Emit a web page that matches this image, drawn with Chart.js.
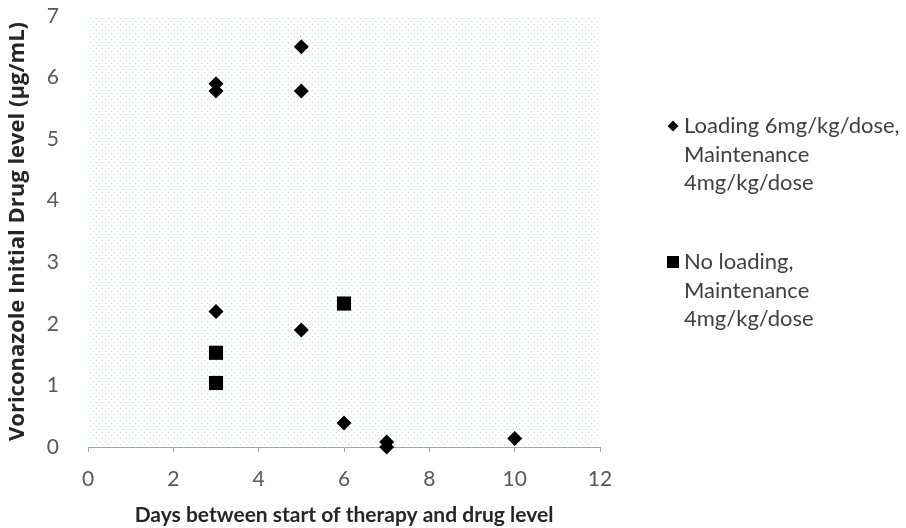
<!DOCTYPE html>
<html>
<head>
<meta charset="utf-8">
<script src="https://cdn.jsdelivr.net/npm/chart.js@4.4.0/dist/chart.umd.min.js"></script>
<style>
  html, body { margin: 0; padding: 0; background: #fff; }
  #wrap { position: relative; width: 906px; height: 528px; }
</style>
</head>
<body>
<div id="wrap"><canvas id="scatterChart" width="906" height="528"></canvas></div>
<script>
// days between start of therapy and drug level, and measured level (ug/mL)
const loadingDays   = [3, 3, 5, 5, 3, 5, 6, 7, 7, 10];
const loadingLevels = [5.9, 5.78, 6.5, 5.78, 2.2, 1.9, 0.39, 0.08, 0.0, 0.14];
const noLoadDays    = [3, 3, 6];
const noLoadLevels  = [1.53, 1.04, 2.33];

const legendLabels = [
    ['Loading 6mg/kg/dose,', 'Maintenance', '4mg/kg/dose'],
    ['No loading,', 'Maintenance', '4mg/kg/dose']
];
const xRange = [0, 12, 2];
const yRange = [0, 7, 1];

function toPoints(xs, ys) {
    return xs.map(function (x, i) { return { x: x, y: ys[i] }; });
}

const fontFam = 'Lato, "Open Sans", sans-serif';

// dotted fill behind the plot area
const dotBackground = {
    id: 'dotBackground',
    beforeDatasetsDraw(chart) {
        const area = chart.chartArea;
        const ctx = chart.ctx;
        const tile = document.createElement('canvas');
        tile.width = 6; tile.height = 6;
        const t = tile.getContext('2d');
        t.fillStyle = '#ffffff';
        t.fillRect(0, 0, 6, 6);
        t.fillStyle = 'rgba(150,175,210,0.55)';
        t.fillRect(0, 0, 1, 1);
        t.fillRect(3, 3, 1, 1);
        ctx.save();
        ctx.fillStyle = ctx.createPattern(tile, 'repeat');
        ctx.fillRect(area.left, area.top, area.right - area.left, area.bottom - area.top);
        ctx.restore();
    }
};

// legend drawn on the right, with wrapped lines
const sideLegend = {
    id: 'sideLegend',
    afterDraw(chart) {
        const ctx = chart.ctx;
        const tops = [126, 262];
        const lineH = 28.5;
        ctx.save();
        ctx.font = '22px ' + fontFam;
        ctx.textBaseline = 'middle';
        chart.data.datasets.forEach(function (ds, i) {
            ctx.fillStyle = '#000';
            ctx.strokeStyle = '#000';
            Chart.helpers.drawPoint(ctx, {
                pointStyle: ds.pointStyle,
                radius: i === 0 ? 5.5 : 8.5,
                rotation: 0,
                borderWidth: 0
            }, 673, tops[i]);
            ctx.fillStyle = '#404040';
            legendLabels[i].forEach(function (line, j) {
                ctx.fillText(line, 684, tops[i] + j * lineH);
            });
        });
        ctx.restore();
    }
};

new Chart(document.getElementById('scatterChart'), {
    type: 'scatter',
    data: {
        datasets: [{
            label: legendLabels[0].join(' '),
            data: toPoints(loadingDays, loadingLevels),
            pointStyle: 'rectRot',
            pointRadius: 7.5,
            backgroundColor: '#000',
            borderColor: '#000',
            borderWidth: 0,
            clip: false
        }, {
            label: legendLabels[1].join(' '),
            data: toPoints(noLoadDays, noLoadLevels),
            pointStyle: 'rect',
            pointRadius: 10,
            backgroundColor: '#000',
            borderColor: '#000',
            borderWidth: 0,
            clip: false
        }]
    },
    options: {
        responsive: false,
        animation: false,
        layout: { padding: { top: 16, right: 306, left: 0, bottom: 0 } },
        plugins: {
            legend: { display: false },
            tooltip: { enabled: false }
        },
        scales: {
            x: {
                type: 'linear',
                min: xRange[0],
                max: xRange[1],
                afterFit: function (s) { s.height = 81; s.paddingLeft = 0; s.paddingRight = 0; },
                grid: { display: true, drawOnChartArea: false, drawTicks: true, tickLength: 5, color: '#a6a6a6' },
                border: { display: true, color: '#a6a6a6', width: 1 },
                ticks: { stepSize: xRange[2], font: { family: fontFam, size: 21 }, color: '#595959', padding: 15 },
                title: {
                    display: true,
                    text: 'Days between start of therapy and drug level',
                    font: { family: fontFam, size: 21, weight: 'bold' },
                    color: '#262626',
                    padding: { top: 10, bottom: 0 }
                }
            },
            y: {
                type: 'linear',
                min: yRange[0],
                max: yRange[1],
                afterFit: function (s) { s.width = 88; s.paddingTop = 0; s.paddingBottom = 0; },
                grid: { display: false },
                border: { display: true, color: '#a6a6a6', width: 1 },
                ticks: { stepSize: yRange[2], font: { family: fontFam, size: 21 }, color: '#595959', padding: 21 },
                title: {
                    display: true,
                    text: 'Voriconazole Initial Drug level (µg/mL)',
                    font: { family: '"Open Sans", Lato, sans-serif', size: 22, weight: 'bold' },
                    color: '#262626',
                    padding: { top: 5, bottom: 8 }
                }
            }
        }
    },
    plugins: [dotBackground, sideLegend]
});
</script>
</body>
</html>
